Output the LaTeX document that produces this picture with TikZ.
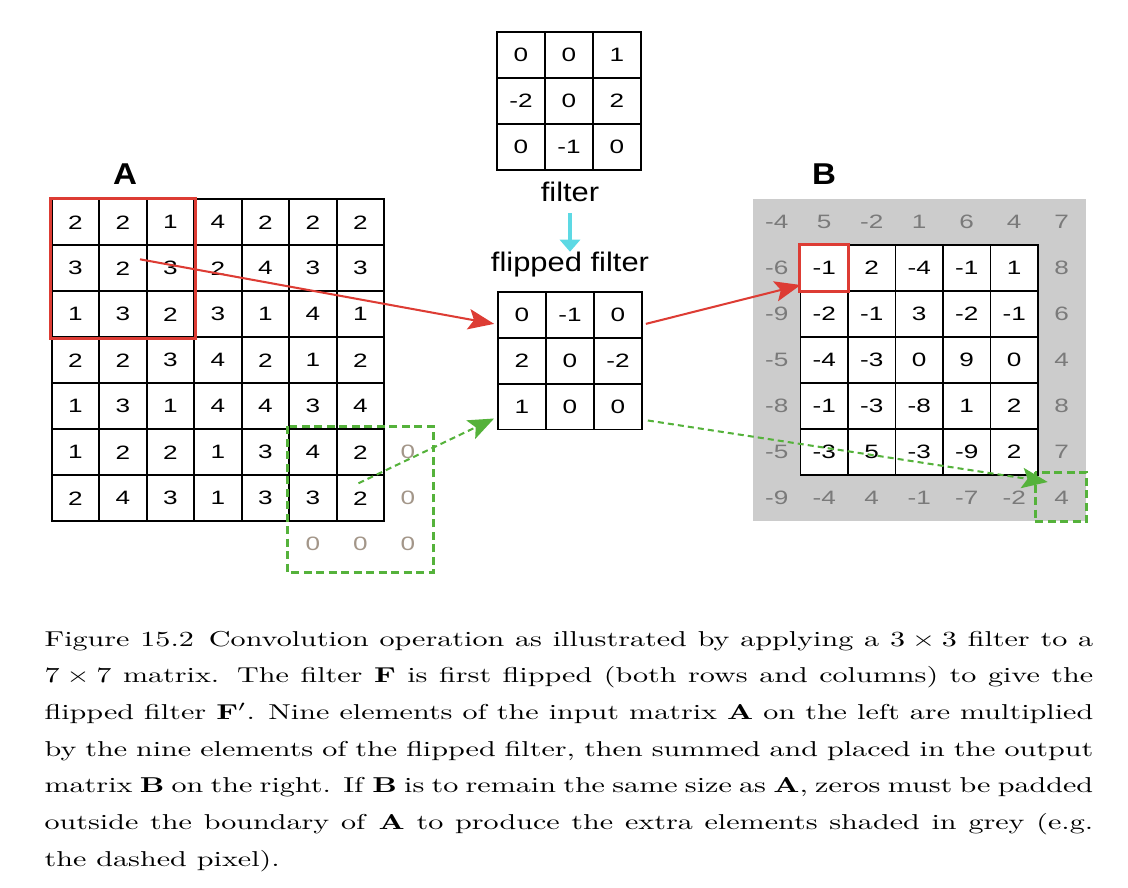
\documentclass[tikz,border=0pt]{standalone}
\usepackage{fontspec}
\usepackage{tikz}
\usetikzlibrary{positioning,arrows.meta}
\newfontfamily\numfont{Liberation Sans}[FakeStretch=1.35]
\newfontfamily\lblfont{Liberation Sans}[FakeStretch=1.15]
\newfontfamily\headfont{Liberation Sans}[FakeStretch=1.1]
\definecolor{convred}{HTML}{DD3C34}
\definecolor{convgreen}{HTML}{55B23B}
\definecolor{convcyan}{HTML}{5DD9E4}
\definecolor{panelgrey}{HTML}{CCCCCC}
\definecolor{bordgrey}{HTML}{7A7A7A}
\definecolor{padbrown}{HTML}{A39689}
\tikzset{
  cell/.style={rectangle, draw, line width=0.8pt, minimum width=22.09pt, minimum height=21.39pt,
               inner sep=0pt, font=\numfont\fontsize{9}{10}\selectfont},
  fcell/.style={cell, minimum width=22.32pt},
  outcell/.style={cell, fill=white},
  padnum/.style={cell, draw=none, text=padbrown},
  bordnum/.style={cell, draw=none, text=bordgrey},
  lbl/.style={inner sep=0pt, font=\lblfont\fontsize{12.5}{15}\selectfont},
  head/.style={inner sep=0pt, font=\headfont\bfseries\fontsize{14}{16}\selectfont},
  redbox/.style={draw=convred, line width=1.4pt},
  greenbox/.style={draw=convgreen, line width=1.4pt, dash pattern=on 3.7pt off 2.1pt},
  fwd/.style={-{Stealth[length=12pt, width=9.5pt, inset=2.5pt]}, line width=0.95pt},
  dashfwd/.style={fwd, dash pattern=on 2.8pt off 1.9pt},
  flipdown/.style={-{Triangle[length=5.6pt, width=9.3pt]}, line width=1.4pt, convcyan},
  captext/.style={inner sep=0pt, text width=348.3pt, align=justify,
                  font=\fontsize{10}{17.07}\selectfont},
}

\begin{document}
\begin{tikzpicture}[x=0.465pt, y=-0.465pt]
  \useasboundingbox (0,0) rectangle (1128,888);

  % input matrix A
  \foreach \vals [count=\r] in {{2,2,1,4,2,2,2},{3,2,3,2,4,3,3},{1,3,2,3,1,4,1},{2,2,3,4,2,1,2},
                                {1,3,1,4,4,3,4},{1,2,2,1,3,4,2},{2,4,3,1,3,3,2}}
    \foreach \v [count=\c] in \vals
      \node[cell] (a-\r-\c) at ({51.7+(\c-0.5)*47.5},{199.3+(\r-0.5)*46}) {\v};
  \foreach \r/\c in {6/8,7/8,8/6,8/7,8/8}
    \node[padnum] (a-\r-\c) at ({51.7+(\c-0.5)*47.5},{199.3+(\r-0.5)*46}) {0};
  \node[head] (labA) at (125,174) {A};

  % filter and flipped filter
  \foreach \vals [count=\r] in {{0,0,1},{-2,0,2},{0,-1,0}}
    \foreach \v [count=\c] in \vals
      \node[fcell] (f-\r-\c) at ({497+(\c-0.5)*48},{32+(\r-0.5)*46}) {\v};
  \foreach \vals [count=\r] in {{0,-1,0},{2,0,-2},{1,0,0}}
    \foreach \v [count=\c] in \vals
      \node[fcell] (ff-\r-\c) at ({498+(\c-0.5)*48},{292+(\r-0.5)*45.8}) {\v};
  \node[lbl, anchor=base] (filt) at (570,201.7) {filter};
  \node[lbl, anchor=base] (flip) at (570,271.7) {flipped filter};

  % output matrix B
  \fill[panelgrey] (753,199) rectangle (1085.5,521);
  \foreach \vals [count=\r from 2] in {{-1,2,-4,-1,1},{-2,-1,3,-2,-1},{-4,-3,0,9,0},{-1,-3,-8,1,2},{-3,5,-3,-9,2}}
    \foreach \v [count=\c from 2] in \vals
      \node[outcell] (b-\r-\c) at ({753+(\c-0.5)*47.5},{199+(\r-0.5)*46}) {\v};
  \foreach \v [count=\c] in {-4,5,-2,1,6,4,7}
    \node[bordnum] (b-1-\c) at ({753+(\c-0.5)*47.5},{199+0.5*46}) {\v};
  \foreach \v [count=\c] in {-9,-4,4,-1,-7,-2,4}
    \node[bordnum] (b-7-\c) at ({753+(\c-0.5)*47.5},{199+6.5*46}) {\v};
  \foreach \v [count=\r from 2] in {-6,-9,-5,-8,-5}
    \node[bordnum] (b-\r-1) at ({753+0.5*47.5},{199+(\r-0.5)*46}) {\v};
  \foreach \v [count=\r from 2] in {8,6,4,8,7}
    \node[bordnum] (b-\r-7) at ({753+6.5*47.5},{199+(\r-0.5)*46}) {\v};
  \node[head] (labB) at (824,174) {B};

  % highlighted windows
  \draw[redbox] (a-1-1.north west) rectangle (a-3-3.south east);
  \draw[redbox] (b-2-2.north west) rectangle (b-2-2.south east);
  \draw[greenbox] ([shift={(-1,-2)}]a-6-6.north west) rectangle ([shift={(1,4)}]a-8-8.south east);
  \draw[greenbox] ([shift={(-2,-2)}]b-7-7.north west) rectangle (b-7-7.south east);

  % connectors
  \draw[flipdown, shorten <=5.1pt] (filt) -- (flip);
  \draw[fwd, convred] ([shift={(17,-9)}]a-2-2.center) -- ([shift={(-3,9)}]ff-1-1.west);
  \draw[fwd, convred] ([shift={(3,9)}]ff-1-3.east) -- ([shift={(1,17)}]b-2-2.west);
  \draw[dashfwd, convgreen] ([shift={(-2,-15)}]a-7-7.center) -- ([shift={(-3,12)}]ff-3-1.west);
  \draw[dashfwd, convgreen] ([shift={(5,14)}]ff-3-3.east) -- ([shift={(-14,-16)}]b-7-7.center);

  % caption
  \begin{scope}[shift={(44,630.5)}, xscale=1.40, transform shape]
    \node[captext, anchor=north west] (cap) at (0,0) {Figure 15.2\enspace Convolution operation as
      illustrated by applying a 3\kern.222em×\kern.222em3 filter to a\linebreak
      7\kern.222em×\kern.222em7 matrix. The filter \textbf{F} is first flipped (both rows and columns) to give the\linebreak
      flipped filter \textbf{F}$'$. Nine elements of the input matrix \textbf{A} on the left are multiplied\linebreak
      by the nine elements of the flipped filter, then summed and placed in the output\linebreak
      matrix \textbf{B} on the right. If \textbf{B} is to remain the same size as \textbf{A}, zeros must be padded\linebreak
      outside the boundary of \textbf{A} to produce the extra elements shaded in grey (e.g.\linebreak
      the dashed pixel).};
  \end{scope}
\end{tikzpicture}
\end{document}
